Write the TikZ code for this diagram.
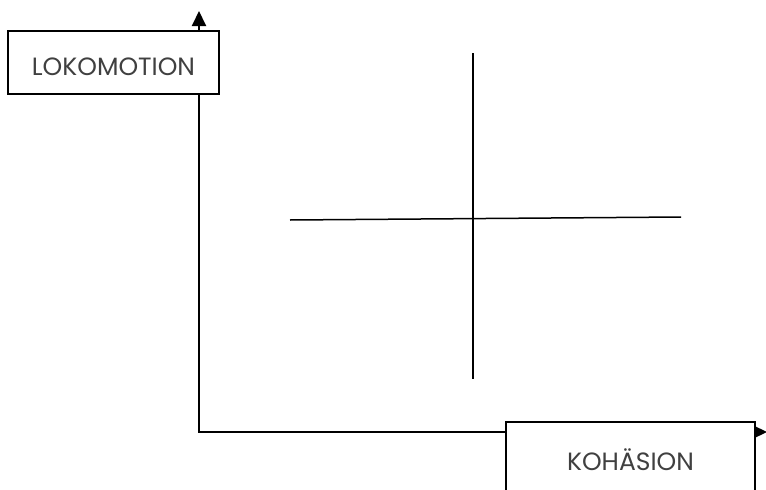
\documentclass[tikz,border=0pt]{standalone}
\usepackage{fontspec}
\setmainfont{Poppins}
\usetikzlibrary{arrows.meta,positioning}
\tikzset{
  labelbox/.style={draw,line width=1.4pt,fill=white,font=\fontsize{25}{28}\selectfont,
        text=black!75,align=center},
  axisline/.style={line width=2pt},
  crossline/.style={line width=1.5pt}
}
\begin{document}
\begin{tikzpicture}[x=1pt,y=-1pt]
  \useasboundingbox (0,0) rectangle (766,490);
  %% Axes
  \coordinate (origin) at (199,432);
  \coordinate (ytip) at (199,11);
  \coordinate (xtip) at (767,432);
  \draw[axisline,{Triangle[length=15pt,width=14pt]}-{Triangle[length=15pt,width=14pt]}]
        (ytip) -- (origin) -- (xtip);
  %% Cross in the middle
  \coordinate (cleft) at (290,220);
  \coordinate (cright) at (681,217);
  \coordinate (ctop) at (473,53);
  \coordinate (cbottom) at (473,379);
  \draw[crossline] (cleft) -- (cright);
  \draw[crossline] (ctop) -- (cbottom);
  %% Labels
  \node[labelbox,minimum width=211pt,minimum height=63pt,text height=26pt,text depth=0pt]
        (lok) at (113.5,62.5) {LOKOMOTION};
  \node[labelbox,minimum width=249pt,minimum height=76pt] (koh) at (630.5,460) {KOHÄSION};
\end{tikzpicture}
\end{document}
